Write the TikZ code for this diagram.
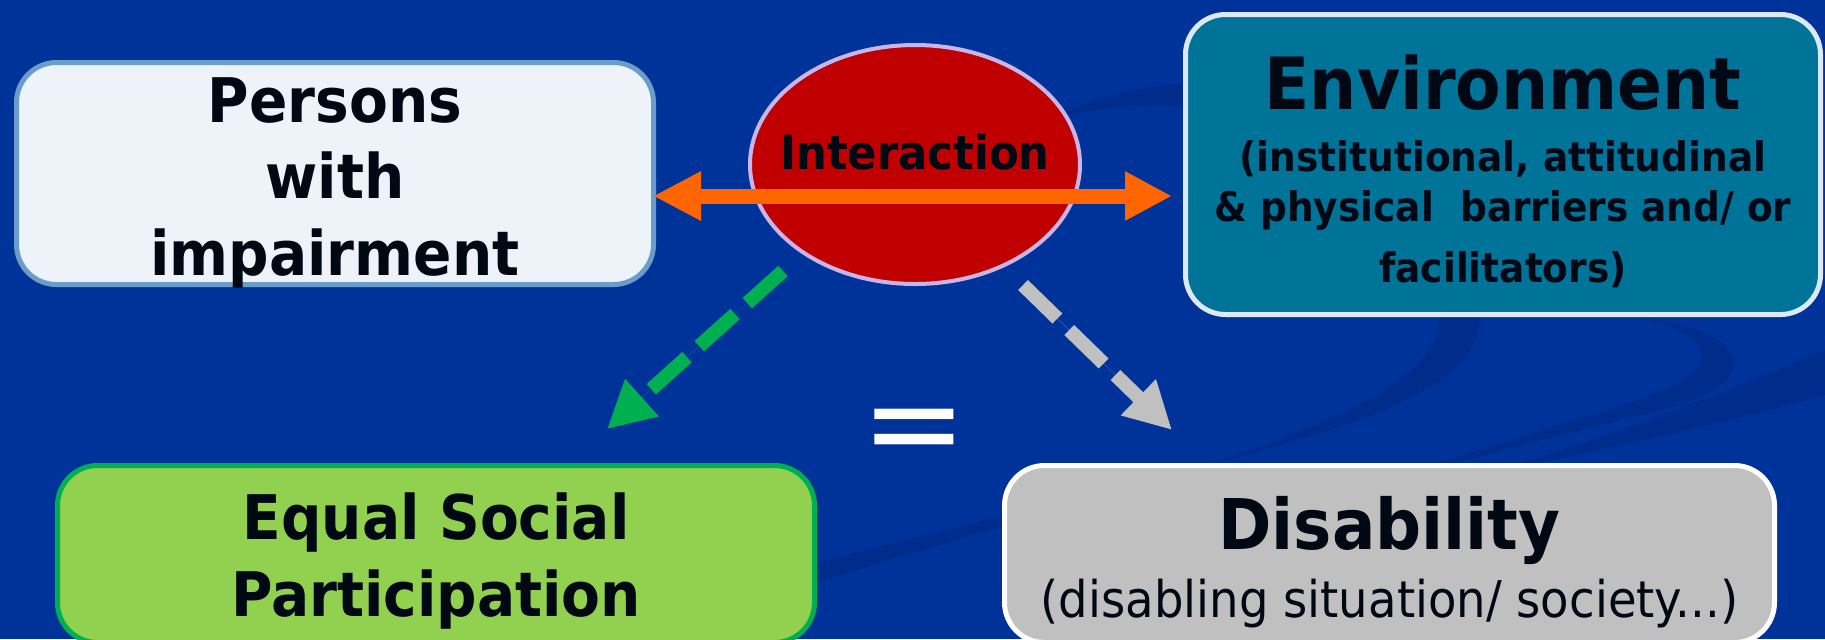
\documentclass[tikz,border=0pt]{standalone}
\usepackage{fontspec}
\setmainfont{DejaVu Sans}[FakeStretch=0.92]
\newfontfamily\eqfont{DejaVu Sans}
\usetikzlibrary{shapes.geometric}
\usetikzlibrary{arrows.meta}

\definecolor{bgblue}{HTML}{003399}
\definecolor{swoosh}{HTML}{002D8C}
\definecolor{ink}{HTML}{000814}
\definecolor{paleblue}{HTML}{EEF3FA}
\definecolor{edgeblue}{HTML}{6A9DC9}
\definecolor{interred}{HTML}{C00000}
\definecolor{lavender}{HTML}{C9B5E8}
\definecolor{teal}{HTML}{007399}
\definecolor{edgewhite}{HTML}{DCE8F2}
\definecolor{lime}{HTML}{92D050}
\definecolor{arrowgreen}{HTML}{00B050}
\definecolor{silver}{HTML}{C0C0C0}
\definecolor{orange}{HTML}{FF6600}

\tikzset{
  box/.style={rectangle, rounded corners=4mm, line width=0.5mm, inner sep=0pt,
              align=center, text=ink},
  bigbold/.style={font=\fontsize{17.5}{21.9}\selectfont\bfseries},
  interlink/.style={draw=orange, line width=1.5mm,
              {Triangle[length=4.8mm,width=4.6mm]}-{Triangle[length=4.7mm,width=4.6mm]}},
  dasharrow/.style={line width=1.4mm, dash pattern=on 4.8mm off 1.65mm,
              -{Triangle[length=4.7mm,width=4.7mm]}}
}

\begin{document}
\begin{tikzpicture}[x=0.1mm,y=-0.1mm]

    \useasboundingbox (0,0) rectangle (1825,639);
    \clip (0,0) rectangle (1825,639);
    \fill[bgblue] (0,0) rectangle (1825,639);

    %background swooshes
    \fill[swoosh] (1050,120) .. controls (1250,10) and (1530,170) .. (1475,340)
                  .. controls (1430,450) and (1050,480) .. (560,639) -- (640,639)
                  .. controls (1050,500) and (1390,440) .. (1435,340)
                  .. controls (1480,200) and (1250,60) .. (1050,120) -- cycle;
    \fill[swoosh] (1640,318) .. controls (1760,330) and (1770,390) .. (1640,415)
                  .. controls (1560,435) and (1480,455) .. (1400,480) -- (1420,470)
                  .. controls (1500,440) and (1600,415) .. (1650,395)
                  .. controls (1720,370) and (1720,335) .. (1640,318) -- cycle;
    \fill[swoosh] (1825,350) -- (1825,395) .. controls (1700,430) and (1600,450) .. (1480,475)
                  .. controls (1600,440) and (1720,395) .. (1825,350) -- cycle;

    \path   (335,173.5) node (persons) [box, bigbold, draw=edgeblue, fill=paleblue,
                minimum width=63.7mm, minimum height=22.2mm]
                {\rule{0pt}{14.5pt}Persons\\with\\\smash{impairment}}
            (915,164.5) node (inter) [ellipse, draw=lavender, fill=interred, line width=0.4mm,
                minimum width=33mm, minimum height=23.9mm, inner xsep=-1.9mm, inner ysep=0pt,
                text=ink, font=\fontsize{13.4}{16}\selectfont\bfseries]
                {Interaction\rule[-7.4pt]{0pt}{7.4pt}}
            (1503,164.5) node (env) [box, draw=edgewhite, fill=teal,
                minimum width=63.5mm, minimum height=30mm,
                font=\fontsize{11.6}{14.2}\selectfont\bfseries]
                {{\fontsize{20.5}{24}\selectfont\rule{0pt}{19.6pt}Environment}\\[3.4pt]
                 (institutional, attitudinal\\
                 \& physical~ barriers and/ or\\[3.1pt]
                 facilitators)}
            (436,554) node (equal) [box, bigbold, draw=arrowgreen, fill=lime,
                minimum width=75.7mm, minimum height=17.7mm]
                {\rule{0pt}{13.9pt}Equal Social\\\smash{Participation}}
            (1389.5,554) node (dis) [box, draw=white, fill=silver,
                minimum width=77mm, minimum height=17.7mm,
                font=\fontsize{14.4}{19.1}\selectfont]
                {{\fontsize{19.9}{24}\selectfont\bfseries\rule{0pt}{16.8pt}Disability}\\
                 \smash{(disabling situation/ society...)}}
            (914,438) node (equals) [inner sep=0pt, text=white,
                font=\eqfont\fontsize{35.9}{36}\selectfont] {=};

    \coordinate (level) at (0,196);
    \coordinate (greenfrom) at (783,271);
    \coordinate (greento) at (607,429);
    \coordinate (grayfrom) at (1023,285);
    \coordinate (grayto) at (1172,430);

    \draw[interlink, shorten <=-0.3mm, shorten >=1.1mm] (persons.east |- level) -- (env.west |- level);
    \draw[dasharrow, draw=arrowgreen, fill=arrowgreen] (greenfrom) -- (greento);
    \draw[dasharrow, draw=silver, fill=silver] (grayfrom) -- (grayto);

\end{tikzpicture}
\end{document}
